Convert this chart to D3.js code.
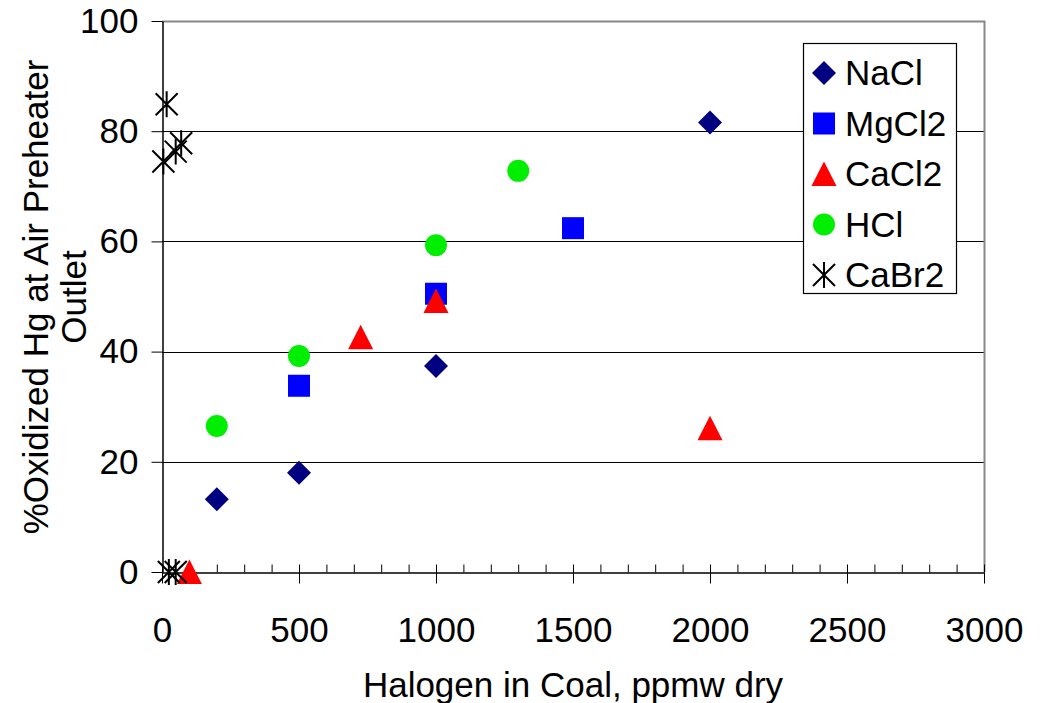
<!DOCTYPE html>
<html>
<head>
<meta charset="utf-8">
<script src="https://cdn.jsdelivr.net/npm/d3@7"></script>
<style>
  body { margin: 0; background: #fff; }
  svg text { font-family: "Liberation Sans", Arial, sans-serif; fill: #000; }
</style>
</head>
<body>
<svg id="chart" width="1041" height="703"></svg>
<script>
// Halogen additive level (ppmw dry) vs. % oxidized Hg, one array pair per additive
const naclX = [200, 500, 1000, 2000];
const naclY = [13.2, 18.0, 37.4, 81.6];
const mgcl2X = [500, 1000, 1500];
const mgcl2Y = [33.8, 50.5, 62.4];
const cacl2X = [100, 725, 1000, 2000];
const cacl2Y = [0, 42.6, 49.2, 26.1];
const hclX = [200, 500, 1000, 1300];
const hclY = [26.5, 39.2, 59.3, 72.8];
const cabr2X = [17, 5, 50, 70, 25, 50];
const cabr2Y = [84.9, 74.5, 76.3, 77.8, 0, 0];

const seriesNames = ["NaCl", "MgCl2", "CaCl2", "HCl", "CaBr2"];
const xTicks = [0, 500, 1000, 1500, 2000, 2500, 3000];
const yTicks = [0, 20, 40, 60, 80, 100];
const xTitle = "Halogen in Coal, ppmw dry";
const yTitleLines = ["%Oxidized Hg at Air Preheater", "Outlet"];

const series = [
  { name: seriesNames[0], xs: naclX, ys: naclY, shape: "diamond", color: "#000080" },
  { name: seriesNames[1], xs: mgcl2X, ys: mgcl2Y, shape: "square", color: "#0000FF" },
  { name: seriesNames[2], xs: cacl2X, ys: cacl2Y, shape: "triangle", color: "#FF0000" },
  { name: seriesNames[3], xs: hclX, ys: hclY, shape: "circle", color: "#00EE00" },
  { name: seriesNames[4], xs: cabr2X, ys: cabr2Y, shape: "asterisk", color: "#000000" }
];

const FONT = 35;
const svg = d3.select("#chart");
svg.append("rect").attr("width", 1041).attr("height", 703).attr("fill", "#fff");

const plotL = 162, plotR = 984, plotT = 21, plotB = 572;
const x = d3.scaleLinear().domain([0, 3000]).range([plotL, plotR]);
const y = d3.scaleLinear().domain([0, 100]).range([plotB, plotT]);

// horizontal gridlines
svg.append("g")
  .selectAll("line")
  .data(yTicks.filter(v => v > 0 && v < 100))
  .join("line")
  .attr("x1", plotL).attr("x2", plotR)
  .attr("y1", d => Math.round(y(d)) + 0.5).attr("y2", d => Math.round(y(d)) + 0.5)
  .attr("stroke", "#000").attr("stroke-width", 1);

// plot-area frame (top and right)
svg.append("path")
  .attr("d", `M${plotL},${plotT + 0.5}H${plotR + 0.5}V${plotB}`)
  .attr("fill", "none").attr("stroke", "#888").attr("stroke-width", 2);

// minor ticks pointing into the plot
svg.append("g")
  .attr("transform", `translate(0,${plotB + 0.5})`)
  .call(d3.axisTop(x).tickValues(d3.range(0, 3001, 100)).tickSize(8).tickFormat(""))
  .call(g => g.select(".domain").remove())
  .call(g => g.selectAll("line").attr("stroke", "#000"));

// x axis with major ticks and labels
svg.append("g")
  .attr("transform", `translate(0,${plotB + 0.5})`)
  .call(d3.axisBottom(x).tickValues(xTicks).tickSize(11).tickSizeOuter(0).tickPadding(34).tickFormat(d3.format("d")))
  .call(g => g.select(".domain").attr("stroke", "#000").attr("stroke-width", 1.5))
  .call(g => g.selectAll("text").attr("font-size", FONT).attr("font-family", "Liberation Sans, Arial, sans-serif"));

// y axis
svg.append("g")
  .attr("transform", `translate(${plotL + 0.5},0)`)
  .call(d3.axisLeft(y).tickValues(yTicks).tickSize(11).tickSizeOuter(0).tickPadding(13).tickFormat(d3.format("d")))
  .call(g => g.select(".domain").attr("stroke", "#000").attr("stroke-width", 1.5))
  .call(g => g.selectAll("text").attr("font-size", FONT).attr("font-family", "Liberation Sans, Arial, sans-serif"));

// axis titles
svg.append("text")
  .attr("x", 573).attr("y", 697)
  .attr("text-anchor", "middle").attr("font-size", FONT)
  .text(xTitle);

const yTitle = svg.append("text")
  .attr("transform", "translate(0,297) rotate(-90)")
  .attr("text-anchor", "middle").attr("font-size", FONT);
yTitle.selectAll("tspan")
  .data(yTitleLines)
  .join("tspan")
  .attr("x", 0)
  .attr("y", (d, i) => 48 + i * 38)
  .text(d => d);

// marker drawing
function drawMarker(g, shape, color) {
  if (shape === "diamond") {
    g.append("path").attr("d", "M0,-12L12,0L0,12L-12,0Z").attr("fill", color);
  } else if (shape === "square") {
    g.append("rect").attr("x", -11).attr("y", -11).attr("width", 22).attr("height", 22).attr("fill", color);
  } else if (shape === "triangle") {
    g.append("path").attr("d", "M0,-12.5L12.5,12L-12.5,12Z").attr("fill", color);
  } else if (shape === "circle") {
    g.append("circle").attr("r", 11).attr("fill", color);
  } else if (shape === "asterisk") {
    g.append("path")
      .attr("d", "M-11,-11L11,11M-11,11L11,-11M0,-13V13")
      .attr("stroke", color).attr("stroke-width", 2).attr("fill", "none");
  }
}

series.forEach(s => {
  const pts = s.xs.map((xv, i) => [xv, s.ys[i]]);
  svg.append("g")
    .selectAll("g")
    .data(pts)
    .join("g")
    .attr("transform", d => `translate(${x(d[0])},${y(d[1])})`)
    .each(function () { drawMarker(d3.select(this), s.shape, s.color); });
});

// legend
const legend = svg.append("g");
legend.append("rect")
  .attr("x", 803.5).attr("y", 43.5).attr("width", 153).attr("height", 250)
  .attr("fill", "#fff").attr("stroke", "#000").attr("stroke-width", 1.2);
series.forEach((s, i) => {
  const cy = 73 + i * 50.5;
  const g = legend.append("g").attr("transform", `translate(824,${cy})`);
  drawMarker(g, s.shape, s.color);
  legend.append("text")
    .attr("x", 845).attr("y", cy).attr("dy", "0.35em")
    .attr("font-size", FONT)
    .text(s.name);
});
</script>
</body>
</html>
